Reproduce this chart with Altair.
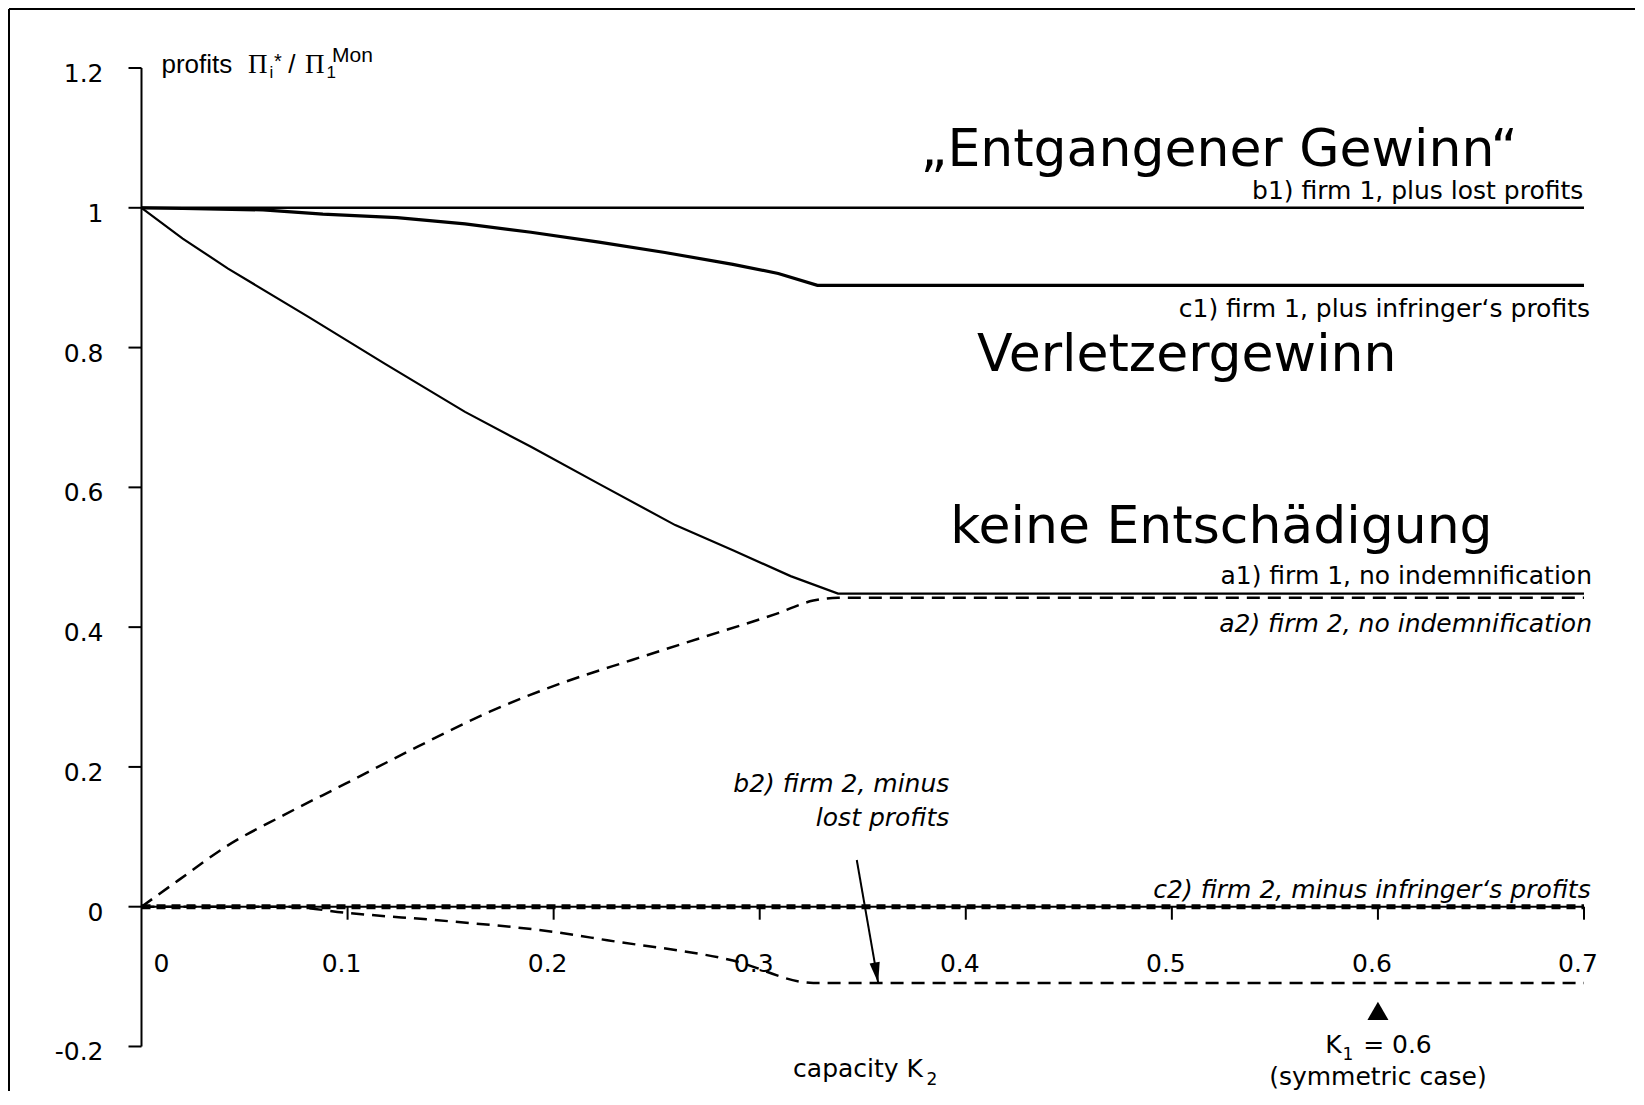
import altair as alt
import pandas as pd

# ---------------- data ----------------
# capacity K2 (x) and profits relative to monopoly profit (y)
K2_B1 = [0.0, 0.7]
PI_B1 = [1.0, 1.0]

K2_C1 = [0.0, 0.020, 0.059, 0.088, 0.124, 0.157, 0.189, 0.222, 0.254, 0.287, 0.309, 0.328, 0.7]
PI_C1 = [1.0, 0.999, 0.997, 0.991, 0.986, 0.977, 0.965, 0.951, 0.936, 0.919, 0.906, 0.889, 0.889]

K2_A1 = [0.0, 0.020, 0.042, 0.081, 0.118, 0.157, 0.189, 0.222, 0.259, 0.287, 0.315, 0.338, 0.7]
PI_A1 = [1.0, 0.956, 0.913, 0.844, 0.777, 0.708, 0.658, 0.605, 0.546, 0.510, 0.473, 0.448, 0.448]

K2_A2 = [0.0, 0.018, 0.041, 0.069, 0.099, 0.134, 0.169, 0.203, 0.238, 0.273, 0.308, 0.326, 0.338, 0.7]
PI_A2 = [0.0, 0.038, 0.086, 0.131, 0.176, 0.229, 0.279, 0.319, 0.353, 0.386, 0.419, 0.438, 0.442, 0.442]

K2_B2 = [0.0, 0.070, 0.100, 0.150, 0.200, 0.226, 0.287, 0.326, 0.7]
PI_B2 = [0.0, 0.0, -0.009, -0.021, -0.036, -0.048, -0.077, -0.109, -0.109]

K2_C2 = [0.0, 0.7]
PI_C2 = [0.0, 0.0]

# axes
X_TICKS = [0.0, 0.1, 0.2, 0.3, 0.4, 0.5, 0.6, 0.7]
X_TICK_LABELS = ["0", "0.1", "0.2", "0.3", "0.4", "0.5", "0.6", "0.7"]
Y_TICKS = [-0.2, 0.0, 0.2, 0.4, 0.6, 0.8, 1.0, 1.2]
Y_TICK_LABELS = ["-0.2", "0", "0.2", "0.4", "0.6", "0.8", "1", "1.2"]

# series labels
LABEL_B1 = "b1) firm 1, plus lost profits"
LABEL_C1 = "c1) firm 1, plus infringer\u2018s profits"
LABEL_A1 = "a1) firm 1, no indemnification"
LABEL_A2 = "a2) firm 2, no indemnification"
LABEL_C2 = "c2) firm 2, minus infringer\u2018s profits"
LABEL_B2 = "b2) firm 2, minus\nlost profits"

# German regime headings
HEAD_TEXT = ["\u201eEntgangener Gewinn\u201c", "Verletzergewinn", "keine Entsch\u00e4digung"]
HEAD_K2 = [0.378, 0.4055, 0.3925]
HEAD_PI = [1.060, 0.7665, 0.5205]

# arrow b2 label -> b2 line
ARROW_K2 = [0.3471, 0.3575]
ARROW_PI = [0.0668, -0.109]
B2_LABEL_POS = (0.392, 0.1645)

# symmetric case marker
K1 = 0.6
K1_MARK_PI = -0.149
K2_TITLE_POS = (0.3162, -0.2432)

# ---------------- layout ----------------
W, H = 1626, 1082
X_DOMAIN = [-0.0643, 0.72475]
Y_DOMAIN = [-0.2637, 1.28445]

X = alt.X("k2:Q", scale=alt.Scale(domain=X_DOMAIN, nice=False, zero=False), axis=None)
Y = alt.Y("pi:Q", scale=alt.Scale(domain=Y_DOMAIN, nice=False, zero=False), axis=None)

SANS = "DejaVu Sans"
ARIAL = "Liberation Sans"
SERIF = "Liberation Serif"


def df(xs, ys, **extra):
    d = {"k2": xs, "pi": ys}
    d.update(extra)
    return pd.DataFrame(d)


def line(xs, ys, width, dash=None, interp="linear"):
    kw = dict(color="black", strokeWidth=width, strokeCap="butt", interpolate=interp)
    if dash:
        kw["strokeDash"] = dash
    return alt.Chart(df(xs, ys)).mark_line(**kw).encode(x=X, y=Y)


def text(xs, ys, labels, **mark):
    base = dict(color="black", font=SANS, fontSize=25, baseline="alphabetic", align="left")
    base.update(mark)
    return alt.Chart(df(xs, ys, label=labels)).mark_text(**base).encode(x=X, y=Y, text="label:N")


layers = []

# frame (left and top edge of the chart area)
layers.append(alt.Chart(df([0], [0])).mark_rule(color="black", strokeWidth=2)
              .encode(x=alt.value(0), y=alt.value(0), y2=alt.value(H)))
layers.append(alt.Chart(df([0], [0])).mark_rule(color="black", strokeWidth=2)
              .encode(y=alt.value(0), x=alt.value(0), x2=alt.value(W)))

# axis lines
axis_df = pd.DataFrame({"k2": [0.0, 0.0], "pi": [Y_TICKS[0], 0.0],
                        "k2_end": [0.0, X_TICKS[-1]], "pi_end": [Y_TICKS[-1], 0.0]})
layers.append(alt.Chart(axis_df).mark_rule(color="black", strokeWidth=2)
              .encode(x=X, y=Y, x2=alt.X2("k2_end:Q"), y2=alt.Y2("pi_end:Q")))
# y ticks (to the left)
layers.append(alt.Chart(df([0.0] * len(Y_TICKS), Y_TICKS))
              .mark_tick(orient="horizontal", size=13, thickness=2, xOffset=-6.5, color="black", opacity=1)
              .encode(x=X, y=Y))
# x ticks (downwards)
layers.append(alt.Chart(df(X_TICKS[1:], [0.0] * (len(X_TICKS) - 1)))
              .mark_tick(orient="vertical", size=13, thickness=2, yOffset=6.5, color="black", opacity=1)
              .encode(x=X, y=Y))

# series
layers.append(line(K2_B1, PI_B1, 2.5))
layers.append(line(K2_C1, PI_C1, 3.2))
layers.append(line(K2_A1, PI_A1, 2.2))
layers.append(line(K2_A2, PI_A2, 2.5, [13, 8], "monotone"))
layers.append(line(K2_B2, PI_B2, 2.5, [13, 8], "monotone"))
layers.append(line(K2_C2, PI_C2, 5, [9, 6]))

# arrow
layers.append(line(ARROW_K2, ARROW_PI, 2))
layers.append(alt.Chart(df([ARROW_K2[1]], [ARROW_PI[1]]))
              .mark_point(shape="M0,0L-0.5,-2L0.5,-2Z", size=420, filled=True, angle=350,
                          color="black", opacity=1, strokeWidth=0)
              .encode(x=X, y=Y))

# K1 marker
layers.append(alt.Chart(df([K1], [K1_MARK_PI]))
              .mark_point(shape="triangle-up", size=441, filled=True, color="black", opacity=1, strokeWidth=0)
              .encode(x=X, y=Y))

# tick labels
layers.append(text(X_TICKS[1:], [0.0] * (len(X_TICKS) - 1), X_TICK_LABELS[1:],
                   fontSize=25, align="center", dx=-6, dy=65))
layers.append(text(X_TICKS[:1], [0.0], X_TICK_LABELS[:1], fontSize=25, align="center", dx=20, dy=65))
layers.append(text([0.0] * len(Y_TICKS), Y_TICKS, Y_TICK_LABELS, fontSize=25, align="right", dx=-38, dy=14))

# y axis title: profits Π_i* / Π_1^Mon
yt = ([0.0], [Y_TICKS[-1]])
layers.append(text(*yt, ["profits"], font=ARIAL, fontSize=26, dx=20, dy=5.3))
layers.append(text(*yt, ["\u03a0"], font=SERIF, fontSize=27, dx=106.5, dy=5.3))
layers.append(text(*yt, ["*"], font=ARIAL, fontSize=20, dx=132.5, dy=0))
layers.append(text(*yt, ["i"], font=ARIAL, fontSize=17, dx=128, dy=10.3))
layers.append(text(*yt, ["/"], font=ARIAL, fontSize=26, dx=146.8, dy=5.3))
layers.append(text(*yt, ["\u03a0"], font=SERIF, fontSize=27, dx=163.5, dy=5.3))
layers.append(text(*yt, ["1"], font=ARIAL, fontSize=17, dx=185, dy=10.3))
layers.append(text(*yt, ["Mon"], font=ARIAL, fontSize=21, dx=190.5, dy=-6.3))

# x axis title: capacity K_2
layers.append(text([K2_TITLE_POS[0]], [K2_TITLE_POS[1]], ["capacity K"]))
layers.append(text([K2_TITLE_POS[0]], [K2_TITLE_POS[1]], ["2"], fontSize=17, dx=133.5, dy=8.3))

# K1 annotation
layers.append(text([K1], [K1_MARK_PI], ["K"], dx=-52.8, dy=42.3))
layers.append(text([K1], [K1_MARK_PI], ["1"], fontSize=17, dx=-35.5, dy=49))
layers.append(text([K1], [K1_MARK_PI], ["= 0.6"], dx=-14.8, dy=42.3))
layers.append(text([K1], [K1_MARK_PI], ["(symmetric case)"], align="center", dx=0, dy=74))

# series labels
layers.append(text([K2_B1[-1]], [PI_B1[-1]], [LABEL_B1], align="right", dx=-0.7, dy=-8.5))
layers.append(text([K2_C1[-1]], [PI_C1[-1]], [LABEL_C1], align="right", dx=6, dy=31.3))
layers.append(text([K2_A1[-1]], [PI_A1[-1]], [LABEL_A1], align="right", dx=8, dy=-10))
layers.append(text([K2_A2[-1]], [PI_A2[-1]], [LABEL_A2], align="right", fontStyle="italic", dx=8, dy=34.2))
layers.append(text([K2_C2[-1]], [PI_C2[-1]], [LABEL_C2], align="right", fontStyle="italic", dx=6.7, dy=-8.4))
layers.append(text([B2_LABEL_POS[0]], [B2_LABEL_POS[1]], [LABEL_B2], align="right", fontStyle="italic",
                   lineBreak="\n", lineHeight=34.3))

# headings
for t, hx, hy in zip(HEAD_TEXT, HEAD_K2, HEAD_PI):
    layers.append(text([hx], [hy], [t], fontSize=52))

chart = alt.layer(*layers).properties(
    width=W, height=H,
    padding={"left": 1, "top": 1, "right": 0, "bottom": 0},
    autosize=alt.AutoSizeParams(type="none"),
).configure_view(stroke=None)

chart.save("out.html", embed_options={"renderer": "svg", "actions": False})
